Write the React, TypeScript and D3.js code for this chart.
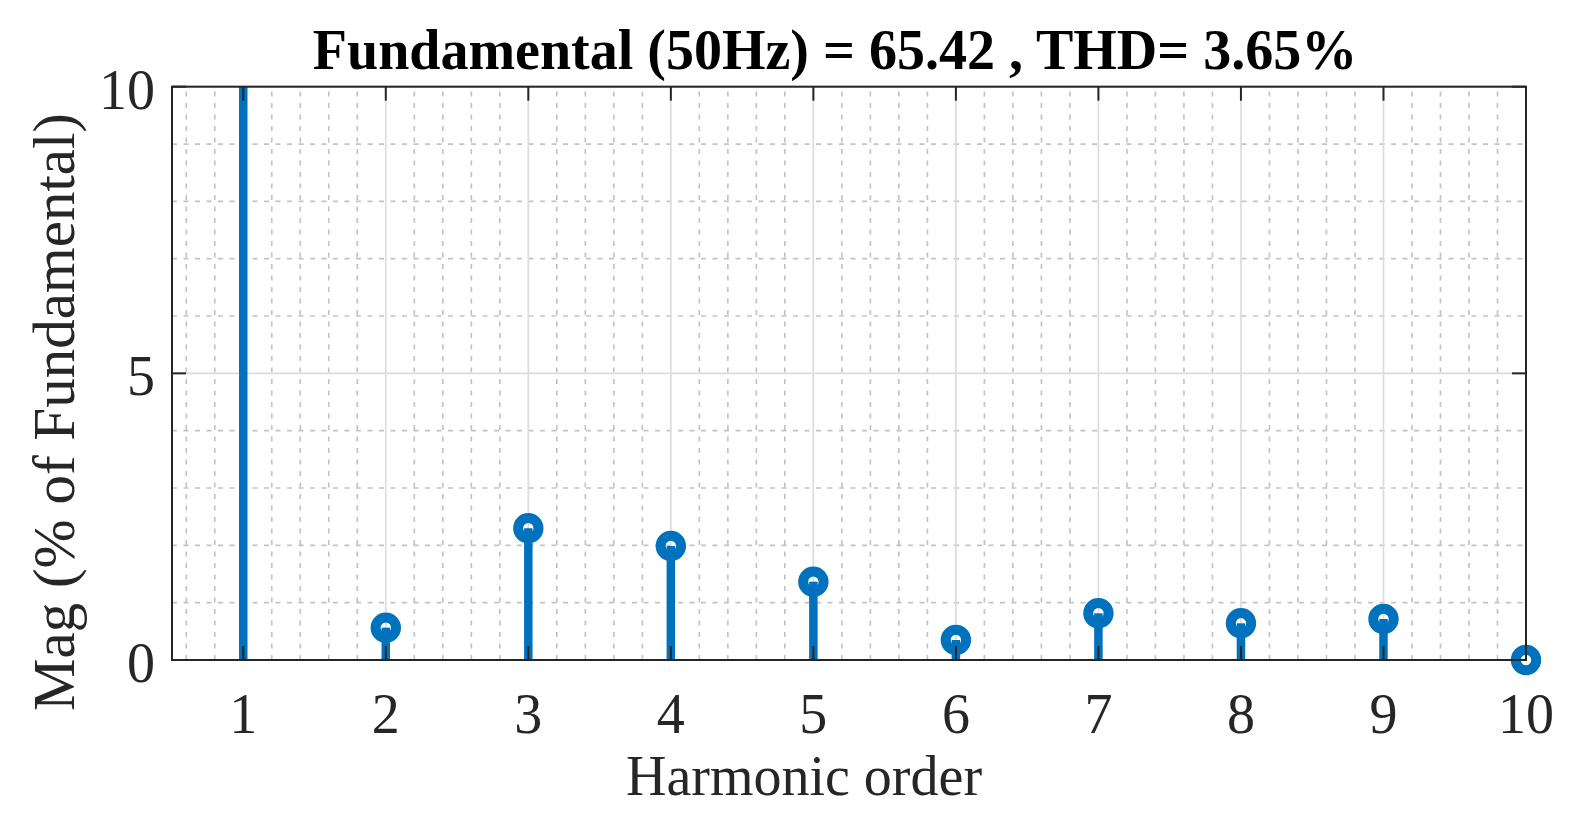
import React from "react";
import * as d3 from "d3";

const harmonicOrders = [1, 2, 3, 4, 5, 6, 7, 8, 9, 10];
const magnitudes = [100, 0.564, 2.3, 1.99, 1.366, 0.349, 0.815, 0.64, 0.715, 0];
const xTickValues = [1, 2, 3, 4, 5, 6, 7, 8, 9, 10];
const yTickValues = [0, 5, 10];
const yMinorValues = [1, 2, 3, 4, 6, 7, 8, 9];
const titleText = "Fundamental (50Hz) = 65.42 , THD= 3.65%";
const xLabelText = "Harmonic order";
const yLabelText = "Mag (% of Fundamental)";

const W = 1582;
const H = 828;
const L = 172;
const R = 1526;
const T = 86.7;
const B = 660;

const BLUE = "#0072BD";
const AX = "#262626";
const FONT = "'Liberation Serif', 'Times New Roman', serif";

export default function App() {
  const x = d3.scaleLinear().domain([0.5, 10]).range([L, R]);
  const y = d3.scaleLinear().domain([0, 10]).range([B, T]);
  const xMinor = d3.range(0.6, 10.0001, 0.2).map((v) => Math.round(v * 10) / 10).filter((v) => Math.abs(v - Math.round(v)) > 1e-6);
  const tickLen = 14;

  return (
    <svg width={W} height={H} style={{ position: "absolute", left: 0, top: 0, background: "#fff" }}>
      <defs>
        <clipPath id="plotClip">
          <rect x={L} y={T} width={R - L} height={B - T} />
        </clipPath>
      </defs>
      <rect x={0} y={0} width={W} height={H} fill="#fff" />
      {/* minor grid */}
      <g stroke="#c4c4c4" strokeWidth={1.7} strokeDasharray="5,6.5">
        {xMinor.map((v) => (
          <line key={"xm" + v} x1={x(v)} x2={x(v)} y1={B} y2={T} />
        ))}
        {yMinorValues.map((v) => (
          <line key={"ym" + v} x1={L} x2={R} y1={y(v)} y2={y(v)} />
        ))}
      </g>
      {/* major grid */}
      <g stroke="#dcdcdc" strokeWidth={1.7}>
        {xTickValues.map((v) => (
          <line key={"xg" + v} x1={x(v)} x2={x(v)} y1={B} y2={T} />
        ))}
        {yTickValues.map((v) => (
          <line key={"yg" + v} x1={L} x2={R} y1={y(v)} y2={y(v)} />
        ))}
      </g>
      {/* stems */}
      <g clipPath="url(#plotClip)" stroke={BLUE} strokeWidth={8.5}>
        {harmonicOrders.map((h, i) => (
          <line key={"s" + h} x1={x(h)} x2={x(h)} y1={y(0)} y2={y(magnitudes[i])} />
        ))}
      </g>
      {/* markers */}
      <g stroke={BLUE} strokeWidth={10} fill="none">
        {harmonicOrders.map((h, i) =>
          magnitudes[i] <= 10 ? <circle key={"m" + h} cx={x(h)} cy={y(magnitudes[i])} r={10.2} /> : null
        )}
      </g>
      {/* axes box */}
      <rect x={L} y={T} width={R - L} height={B - T} fill="none" stroke={AX} strokeWidth={2} />
      {/* ticks */}
      <g stroke={AX} strokeWidth={2}>
        {xTickValues.map((v) => (
          <g key={"xt" + v}>
            <line x1={x(v)} x2={x(v)} y1={B} y2={B - tickLen} />
            <line x1={x(v)} x2={x(v)} y1={T} y2={T + tickLen} />
          </g>
        ))}
        {yTickValues.map((v) => (
          <g key={"yt" + v}>
            <line x1={L} x2={L + tickLen} y1={y(v)} y2={y(v)} />
            <line x1={R} x2={R - tickLen} y1={y(v)} y2={y(v)} />
          </g>
        ))}
      </g>
      {/* tick labels */}
      <g fontFamily={FONT} fontSize={56} fill={AX}>
        {xTickValues.map((v) => (
          <text key={"xl" + v} x={x(v)} y={733} textAnchor="middle">
            {v}
          </text>
        ))}
        {yTickValues.map((v) => (
          <text key={"yl" + v} x={155} y={y(v) + 22} textAnchor="end">
            {v}
          </text>
        ))}
      </g>
      {/* labels */}
      <text x={804} y={795} textAnchor="middle" fontFamily={FONT} fontSize={56} fill={AX}>
        {xLabelText}
      </text>
      <text
        transform={`translate(74, 412) rotate(-90)`}
        textAnchor="middle"
        fontFamily={FONT}
        fontSize={59}
        fill={AX}
      >
        {yLabelText}
      </text>
      <text x={835} y={69} textAnchor="middle" fontFamily={FONT} fontSize={56} fontWeight="bold" fill="#000">
        {titleText}
      </text>
    </svg>
  );
}
